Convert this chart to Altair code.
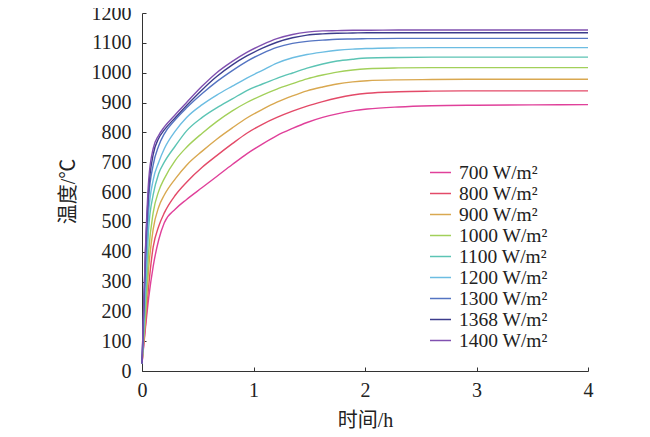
import altair as alt
import pandas as pd

times = [0, 0.03, 0.06, 0.1, 0.15, 0.2, 0.3, 0.4, 0.54, 0.67, 0.81, 0.94, 1.08,
         1.21, 1.35, 1.48, 1.62, 1.75, 1.89, 2.02, 2.3, 2.6, 3.0, 3.5, 4.0]

t700 = [25, 140, 245, 350, 440, 497, 543, 575, 615, 652, 692, 728, 761, 789, 813, 833, 850, 862, 872, 878, 885, 889, 891, 892, 893]
t800 = [25, 150, 285, 415, 485, 530, 590, 633, 683, 722, 762, 797, 827, 850, 871, 888, 903, 915, 925, 931, 936, 938, 939, 939, 939]
t900 = [25, 170, 345, 475, 550, 590, 645, 690, 737, 777, 815, 848, 877, 901, 922, 939, 952, 962, 969, 973, 976, 977, 978, 978, 978]
t1000 = [25, 190, 400, 530, 603, 645, 707, 750, 797, 836, 872, 900, 925, 945, 963, 979, 992, 1002, 1009, 1013, 1016, 1017, 1017, 1017, 1017]
t1100 = [25, 230, 480, 590, 662, 700, 755, 805, 850, 882, 912, 940, 962, 981, 999, 1015, 1029, 1039, 1045, 1049, 1051, 1052, 1052, 1052, 1052]
t1200 = [25, 290, 530, 640, 700, 745, 805, 850, 893, 925, 955, 982, 1008, 1032, 1050, 1061, 1069, 1075, 1079, 1081, 1083, 1084, 1084, 1084, 1084]
t1300 = [25, 340, 580, 690, 755, 795, 843, 882, 930, 970, 1007, 1038, 1065, 1085, 1098, 1105, 1109, 1112, 1113, 1114, 1115, 1115, 1115, 1115, 1115]
t1368 = [25, 390, 610, 725, 780, 808, 850, 890, 943, 987, 1026, 1056, 1082, 1102, 1117, 1126, 1130, 1132, 1133, 1134, 1134, 1134, 1134, 1134, 1134]
t1400 = [25, 400, 640, 745, 790, 818, 860, 900, 955, 1000, 1038, 1068, 1094, 1114, 1128, 1136, 1140, 1141, 1142, 1142, 1143, 1143, 1143, 1143, 1143]

labels = ["700 W/m²", "800 W/m²", "900 W/m²", "1000 W/m²", "1100 W/m²",
          "1200 W/m²", "1300 W/m²", "1368 W/m²", "1400 W/m²"]
series = [t700, t800, t900, t1000, t1100, t1200, t1300, t1368, t1400]
colors = ["#e0409a", "#e34a68", "#d9a850", "#a2d05a", "#5cc4b4",
          "#6cbde2", "#5474c2", "#3c3c8c", "#8050b0"]

x_ticks = [0, 1, 2, 3, 4]
y_ticks = [0, 100, 200, 300, 400, 500, 600, 700, 800, 900, 1000, 1100, 1200]

rows = []
for lab, vals in zip(labels, series):
    for t, v in zip(times, vals):
        rows.append({"time": t, "temp": v, "series": lab})
df = pd.DataFrame(rows)

SERIF = "'Liberation Serif', 'Noto Sans CJK SC'"

chart = alt.Chart(df).mark_line(strokeWidth=1.4, interpolate="monotone").encode(
    x=alt.X("time:Q",
            scale=alt.Scale(domain=[0, 4], nice=False),
            axis=alt.Axis(values=x_ticks, title="时间/h", format="d",
                          labelPadding=13, labelBaseline="top", labelFlush=False,
                          titleX=223, titleY=49, titleBaseline="middle",
                          titleAlign="center")),
    y=alt.Y("temp:Q",
            scale=alt.Scale(domain=[0, 1200], nice=False),
            axis=alt.Axis(values=y_ticks, title="温度/℃", format="d",
                          labelPadding=15, labelBaseline="middle", labelFlush=False,
                          titleX=-74, titleY=178, titleAngle=270,
                          titleBaseline="middle", titleAlign="center")),
    color=alt.Color("series:N",
                    scale=alt.Scale(domain=labels, range=colors),
                    sort=labels,
                    legend=alt.Legend(title=None, orient="none",
                                      legendX=287, legendY=148,
                                      symbolType="stroke", symbolSize=441,
                                      symbolStrokeWidth=1.5,
                                      labelFont=SERIF, labelFontSize=19.5,
                                      labelColor="#222", labelOffset=7,
                                      labelLimit=0, rowPadding=0,
                                      padding=0)),
).properties(
    width=446, height=358,
    autosize=alt.AutoSizeParams(type="none"),
    padding={"left": 134, "top": 5, "right": 54, "bottom": 58},
).configure_axis(
    grid=False,
    tickSize={"expr": "-4"},
    tickColor="#333",
    domainColor="#333",
    domainWidth=1,
    labelFont=SERIF,
    labelFontSize=20,
    labelColor="#222",
    titleFont=SERIF,
    titleFontSize=20,
    titleFontWeight="normal",
    titleColor="#222",
).configure_view(stroke=None)

chart.save("out.html", embed_options={"renderer": "svg", "actions": False})
